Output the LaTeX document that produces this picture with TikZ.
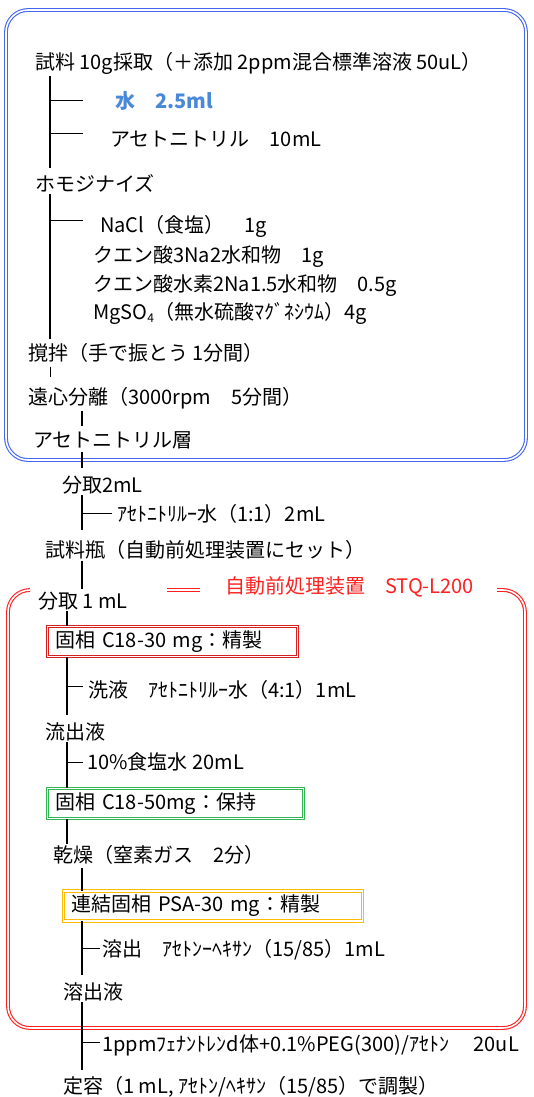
\documentclass[tikz,border=0pt]{standalone}
\usepackage{fontspec}
\setmainfont{Noto Sans CJK JP}
\usetikzlibrary{positioning}
\definecolor{frameblue}{HTML}{4466EE}
\definecolor{waterblue}{HTML}{4A88D8}
\definecolor{framered}{HTML}{FF2020}
\definecolor{boxred}{HTML}{D82020}
\definecolor{boxgreen}{HTML}{33B555}
\definecolor{boxgold}{HTML}{FFBB00}
\tikzset{
  steptext/.style={anchor=west,inner sep=0pt},
  trunk/.style={line width=1.4pt},
  twig/.style={line width=0.8pt},
  frame/.style={double=white,double distance=1.6pt,line width=1.1pt,rounded corners=22pt},
  colbox/.style={steptext,draw=#1,double=white,double distance=1.4pt,line width=0.9pt,
    inner xsep=8pt,minimum height=30pt,align=left}
}
\begin{document}
\begin{tikzpicture}[x=1pt,y=-1pt,font=\fontsize{20}{22}\selectfont]
\useasboundingbox (0,0) rectangle (533,1097);
% frames
\draw[frame,frameblue] (6,10) rectangle (526,460);
\draw[frame,framered] (30,590) -- (8,590) -- (8,1028) -- (525,1028) -- (525,590) -- (497,590);
\draw[double=white,double distance=1.6pt,line width=1.1pt,framered] (167,590) -- (200,590);
% trunk x positions
\coordinate (xa) at (50,0);
\coordinate (xb) at (82,0);
\coordinate (xc) at (67,0);
% steps
\node[steptext] (sample) at (35,63) {試料 10g採取（＋添加 2ppm混合標準溶液 50uL）};
\node[steptext,text=waterblue,font=\fontsize{20}{22}\selectfont\bfseries] (water) at (115,101) {水　2.5ml};
\node[steptext] (acn) at (110,139) {アセトニトリル　10mL};
\node[steptext] (homo) at (35,183) {ホモジナイズ};
\node[steptext] (nacl) at (100,226) {NaCl（食塩）　1g};
\node[steptext] (citA) at (93,257) {クエン酸3Na2水和物　1g};
\node[steptext] (citB) at (93,286) {クエン酸水素2Na1.5水和物　0.5g};
\node[steptext] (mgso) at (93,313) {MgSO\raisebox{-0.35ex}{\fontsize{12}{12}\selectfont 4}（無水硫酸ﾏｸﾞﾈｼｳﾑ）4g};
\node[steptext] (shake) at (28,353) {撹拌（手で振とう 1分間）};
\node[steptext] (cent) at (28,398) {遠心分離（3000rpm　5分間）};
\node[steptext] (layer) at (33,440) {アセトニトリル層};
\node[steptext] (take2) at (62,485) {分取2mL};
\node[steptext] (dil) at (117,514) {ｱｾﾄﾆﾄﾘﾙｰ水（1:1）2mL};
\node[steptext] (vial) at (45,550) {試料瓶（自動前処理装置にセット）};
\node[steptext] (take1) at (38,601) {分取 1 mL};
\node[steptext,text=framered] (device) at (225,587) {自動前処理装置　STQ-L200};
\node[colbox=boxred,text width=234pt] (c18a) at (47,641.5) {固相 C18-30 mg：精製};
\node[steptext] (wash) at (88,690) {洗液　ｱｾﾄﾆﾄﾘﾙｰ水（4:1）1mL};
\node[steptext] (eff) at (45,732) {流出液};
\node[steptext] (brine) at (87,762) {10\%食塩水 20mL};
\node[colbox=boxgreen,text width=240pt] (c18b) at (47,803.5) {固相 C18-50mg：保持};
\node[steptext] (dry) at (53,855) {乾燥（窒素ガス　2分）};
\node[colbox=boxgold,text width=283pt] (psa) at (63,906) {連結固相 PSA-30 mg：精製};
\node[steptext] (elu) at (102,950) {溶出　ｱｾﾄﾝｰﾍｷｻﾝ（15/85）1mL};
\node[steptext] (eluate) at (63,992) {溶出液};
\node[steptext] (istd) at (102,1045) {1ppmﾌｪﾅﾝﾄﾚﾝd体+0.1\%PEG(300)/ｱｾﾄﾝ　 20uL};
\node[steptext] (vol) at (63,1087) {定容（1 mL, ｱｾﾄﾝ/ﾍｷｻﾝ（15/85）で調製）};
% trunks
\draw[trunk] ([yshift=-2]sample.south -| xa) -- ([yshift=6]homo.north -| xa);
\draw[trunk] ([yshift=-2]homo.south -| xa) -- ([yshift=4]shake.north -| xa);
\draw[twig] ([yshift=-4]shake.south -| xa) -- ([yshift=10]cent.north -| xa);
\draw[trunk] ([yshift=-2]cent.south -| xb) -- ([yshift=5]layer.north -| xb);
\draw[trunk] ([yshift=-3]layer.south -| xb) -- ([yshift=8]take2.north -| xb);
\draw[trunk] ([yshift=-1]take2.south -| xb) -- ([yshift=10]vial.north -| xb);
\draw[trunk] ([yshift=-1]vial.south -| xb) -- ([yshift=3]take1.north -| xb);
\draw[trunk] ([yshift=-1]take1.south -| xc) -- (c18a.north -| xc);
\draw[trunk] (c18a.south -| xc) -- ([yshift=8]eff.north -| xc);
\draw[trunk] ([yshift=-1]eff.south -| xc) -- (c18b.north -| xc);
\draw[trunk] (c18b.south -| xc) -- ([yshift=1]dry.north -| xc);
\draw[trunk] ([yshift=-3]dry.south -| xb) -- (psa.north -| xb);
\draw[trunk] (psa.south -| xb) -- ([yshift=8]eluate.north -| xb);
\draw[trunk] ([yshift=-1]eluate.south -| xb) -- ([yshift=6]vol.north -| xb);
% branches
\foreach \tgt/\dy/\xend/\tx in {water/1/83/xa, acn/6/83/xa, nacl/6/83/xa, dil/1/112/xb,
  wash/4/83/xc, brine/0/83/xc, elu/2/100/xb, istd/3/100/xb} {
  \coordinate (\tgt-end) at (\xend,0);
  \draw[twig] ([yshift=\dy]\tgt.west -| \tx) -- ([yshift=\dy]\tgt.west -| \tgt-end);
}
\end{tikzpicture}
\end{document}
